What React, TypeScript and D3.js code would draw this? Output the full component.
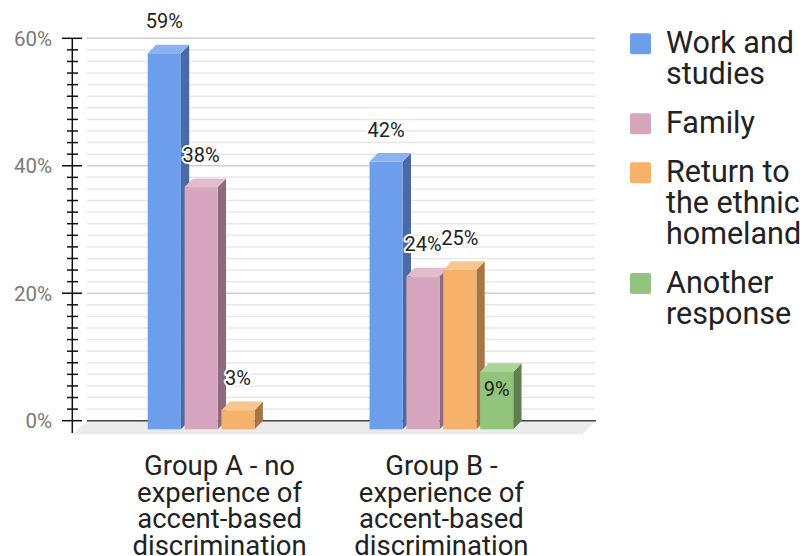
import React from "react";
import * as d3 from "d3";

const categories: string[][] = [
  ["Group A - no", "experience of", "accent-based", "discrimination"],
  ["Group B -", "experience of", "accent-based", "discrimination"],
];
const seriesNames: string[][] = [
  ["Work and", "studies"],
  ["Family"],
  ["Return to", "the ethnic", "homeland"],
  ["Another", "response"],
];
const workStudies = [59, 42];
const family = [38, 24];
const returnHome = [3, 25];
const another = [0, 9];
const seriesValues = [workStudies, family, returnHome, another];
const majorTicks = [0, 20, 40, 60];

const FRONT = ["#6d9eeb", "#d5a6bd", "#f6b26b", "#93c47d"];
const SIDE = ["#4a6aa6", "#8e6a7d", "#a67744", "#5f8150"];
const TOP = ["#8db2f0", "#e2bccd", "#f8c68f", "#aad497"];

const W = 807;
const H = 556;
const DX = 8.3;
const DY = 8.6;

export default function App() {
  const yBack = d3.scaleLinear().domain([0, 60]).range([420.7, 38.3]);
  const yFront = (v: number) => yBack(v) + DY;
  const x0 = d3
    .scaleBand<number>()
    .domain(d3.range(categories.length))
    .range([108.7, 552.3])
    .padding(0);
  const groupW = 143.7;
  const x1 = d3
    .scaleBand<number>()
    .domain(d3.range(seriesValues.length))
    .range([0, groupW])
    .paddingInner(0.1);

  const minorStep = 20 / 11;
  const minorTicks: number[] = [];
  for (let m = 0; m < 3; m++) {
    for (let k = 1; k <= 10; k++) minorTicks.push(m * 20 + k * minorStep);
  }

  const bars: React.ReactNode[] = [];
  const labels: React.ReactNode[] = [];
  categories.forEach((_, g) => {
    const gx = x0(g)! + x0.bandwidth() / 2 - groupW / 2;
    seriesValues.forEach((vals, s) => {
      const v = vals[g];
      if (v <= 0) return;
      const x = gx + x1(s)!;
      const w = x1.bandwidth();
      const top = yFront(v);
      const base = yFront(0);
      bars.push(
        <g key={`b${g}-${s}`}>
          <polygon
            points={`${x + w},${top} ${x + w + DX},${top - DY} ${x + w + DX},${base - DY} ${x + w},${base}`}
            fill={SIDE[s]}
          />
          <polygon
            points={`${x},${top} ${x + DX},${top - DY} ${x + w + DX},${top - DY} ${x + w},${top}`}
            fill={TOP[s]}
          />
          <rect x={x} y={top} width={w} height={base - top} fill={FRONT[s]} />
        </g>
      );
      const inside = g === 1 && s === 3;
      labels.push(
        <text
          key={`l${g}-${s}`}
          x={x + w / 2}
          y={inside ? top + 24 : top - 25}
          textAnchor="middle"
          fontSize={20}
          fill="#222"
          stroke={inside ? "none" : "#fff"}
          strokeWidth={4}
          strokeLinejoin="round"
          style={{ paintOrder: "stroke" }}
        >
          {v}%
        </text>
      );
    });
  });

  // legend layout
  const lineH = 30.8;
  const gap = 18.3;
  let ly = 53.3;
  const legend = seriesNames.map((lines, i) => {
    const y0 = ly;
    ly += lines.length * lineH + gap;
    return (
      <g key={`lg${i}`}>
        <rect x={630} y={y0 - 20} width={21} height={21} rx={2} fill={FRONT[i]} />
        <text x={666} y={y0} fontSize={30.5} fill="#222">
          {lines.map((t, j) => (
            <tspan key={j} x={666} y={y0 + j * lineH}>
              {t}
            </tspan>
          ))}
        </text>
      </g>
    );
  });

  return (
    <svg
      width={W}
      height={H}
      style={{ position: "absolute", left: 0, top: 0, background: "#fff" }}
      fontFamily="Roboto, 'Noto Sans', sans-serif"
    >
      <rect x={0} y={0} width={W} height={H} fill="#fff" />
      {/* floor */}
      <polygon
        points={`87,${yBack(0)} 596,${yBack(0)} 582,434.3 73,434.3`}
        fill="#ebebeb"
      />
      {/* minor gridlines */}
      {minorTicks.map((t, i) => (
        <line
          key={`mg${i}`}
          x1={87}
          x2={595}
          y1={yBack(t)}
          y2={yBack(t)}
          stroke="#e8e8e8"
          strokeWidth={1.5}
        />
      ))}
      {majorTicks
        .filter((t) => t > 0)
        .map((t) => (
          <line
            key={`g${t}`}
            x1={87}
            x2={595}
            y1={yBack(t)}
            y2={yBack(t)}
            stroke="#cfcfcf"
            strokeWidth={1.5}
          />
        ))}
      <line x1={87} x2={596} y1={yBack(0)} y2={yBack(0)} stroke="#444" strokeWidth={1.5} />
      {/* axis */}
      <line x1={72.3} x2={72.3} y1={yBack(60)} y2={433} stroke="#111" strokeWidth={1.5} />
      {minorTicks.map((t, i) => (
        <line key={`mt${i}`} x1={67} x2={78} y1={yBack(t)} y2={yBack(t)} stroke="#111" strokeWidth={1.5} />
      ))}
      {majorTicks.map((t) => (
        <g key={`t${t}`}>
          <line x1={62} x2={82} y1={yBack(t)} y2={yBack(t)} stroke="#111" strokeWidth={1.5} />
          <text x={52} y={yBack(t) + 7.3} textAnchor="end" fontSize={20.5} fill="#7a7a7a">
            {t}%
          </text>
        </g>
      ))}
      {bars}
      {labels}
      {/* category labels */}
      {categories.map((lines, g) => (
        <text
          key={`c${g}`}
          textAnchor="middle"
          fontSize={27.5}
          fill="#222"
        >
          {lines.map((t, j) => (
            <tspan key={j} x={x0(g)! + x0.bandwidth() / 2} y={475.2 + j * 26.5}>
              {t}
            </tspan>
          ))}
        </text>
      ))}
      {legend}
    </svg>
  );
}
